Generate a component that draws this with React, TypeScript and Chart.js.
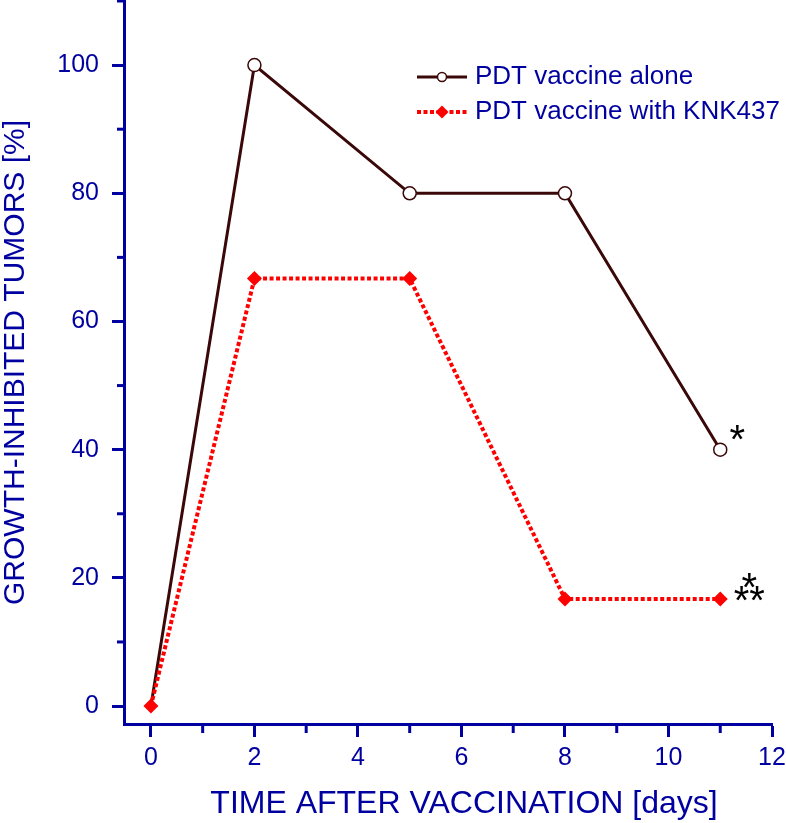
import React, { useEffect, useRef } from "react";
import { Chart, registerables } from "chart.js";

Chart.register(...registerables);

// ---- data ----
const days = [0, 2, 5, 8, 11];
const aloneValues = [0, 100, 80, 80, 40];
const knkValues = [0, 66.7, 66.7, 16.7, 16.7];
const seriesLabels = ["PDT vaccine alone", "PDT vaccine with KNK437"];
const xTitle = "TIME AFTER VACCINATION [days]";
const yTitle = "GROWTH-INHIBITED TUMORS [%]";
const xMajorTicks = [0, 2, 4, 6, 8, 10, 12];
const yMajorTicks = [0, 20, 40, 60, 80, 100];
const aloneMarks = ["*"];
const knkMarks = ["*", "**"];

// ---- styles ----
const AXIS = "#0000a0";
const BROWN = "#3a0808";
const RED = "#ff0000";
const FONT = "'Liberation Sans', Arial, Helvetica, sans-serif";

const minorTicksPlugin = {
  id: "minorTicks",
  afterDraw(chart: any) {
    const ctx = chart.ctx;
    const xs = chart.scales.x;
    const ys = chart.scales.y;
    ctx.save();
    ctx.strokeStyle = AXIS;
    ctx.lineWidth = 3;
    for (const t of xs.ticks) {
      if (xMajorTicks.includes(t.value)) continue;
      const px = xs.getPixelForValue(t.value);
      ctx.beginPath();
      ctx.moveTo(px, xs.top);
      ctx.lineTo(px, xs.top + 9);
      ctx.stroke();
    }
    for (const t of ys.ticks) {
      if (yMajorTicks.includes(t.value)) continue;
      const py = ys.getPixelForValue(t.value);
      ctx.beginPath();
      ctx.moveTo(ys.right, py);
      ctx.lineTo(ys.right - 7, py);
      ctx.stroke();
    }
    // x axis title
    const area = chart.chartArea;
    ctx.fillStyle = AXIS;
    ctx.font = `32px ${FONT}`;
    ctx.textAlign = "center";
    ctx.textBaseline = "middle";
    ctx.fillText(xTitle, (area.left + area.right) / 2 + 16, area.bottom + 80);
    ctx.restore();
  },
};

const legendPlugin = {
  id: "customLegend",
  afterDraw(chart: any) {
    const ctx = chart.ctx;
    const area = chart.chartArea;
    const x0 = area.left + 293;
    const rows = [area.top + 76, area.top + 111];
    ctx.save();
    // row 1
    ctx.strokeStyle = BROWN;
    ctx.lineWidth = 3;
    ctx.setLineDash([]);
    ctx.beginPath();
    ctx.moveTo(x0, rows[0]);
    ctx.lineTo(x0 + 50, rows[0]);
    ctx.stroke();
    ctx.fillStyle = "#fff";
    ctx.lineWidth = 1.5;
    ctx.beginPath();
    ctx.arc(x0 + 25, rows[0], 4.5, 0, Math.PI * 2);
    ctx.fill();
    ctx.stroke();
    // row 2
    ctx.strokeStyle = RED;
    ctx.lineWidth = 4;
    ctx.setLineDash([4, 2.5]);
    ctx.beginPath();
    ctx.moveTo(x0, rows[1]);
    ctx.lineTo(x0 + 50, rows[1]);
    ctx.stroke();
    ctx.setLineDash([]);
    ctx.fillStyle = RED;
    ctx.beginPath();
    const cx = x0 + 25, cy = rows[1], r = 6.5;
    ctx.moveTo(cx, cy - r);
    ctx.lineTo(cx + r, cy);
    ctx.lineTo(cx, cy + r);
    ctx.lineTo(cx - r, cy);
    ctx.closePath();
    ctx.fill();
    // text
    ctx.fillStyle = AXIS;
    ctx.font = `26px ${FONT}`;
    ctx.textBaseline = "middle";
    ctx.textAlign = "left";
    ctx.fillText(seriesLabels[0], x0 + 58, rows[0]);
    ctx.fillText(seriesLabels[1], x0 + 58, rows[1]);
    ctx.restore();
  },
};

function drawCentered(ctx: CanvasRenderingContext2D, text: string, cx: number, cy: number) {
  const m = ctx.measureText(text);
  const asc = m.actualBoundingBoxAscent;
  const desc = m.actualBoundingBoxDescent;
  ctx.fillText(text, cx, cy + (asc - desc) / 2);
}

const marksPlugin = {
  id: "sigMarks",
  afterDraw(chart: any) {
    const ctx = chart.ctx;
    const xs = chart.scales.x;
    const ys = chart.scales.y;
    const last = days.length - 1;
    const ax = xs.getPixelForValue(days[last]);
    const ay = ys.getPixelForValue(aloneValues[last]);
    const ky = ys.getPixelForValue(knkValues[last]);
    ctx.save();
    ctx.fillStyle = "#000";
    ctx.font = `40px ${FONT}`;
    ctx.textAlign = "center";
    ctx.textBaseline = "alphabetic";
    drawCentered(ctx, aloneMarks[0], ax + 17, ay - 17);
    drawCentered(ctx, knkMarks[0], ax + 29, ky - 19);
    drawCentered(ctx, knkMarks[1], ax + 29, ky - 6);
    ctx.restore();
  },
};

export default function App() {
  const ref = useRef<HTMLCanvasElement | null>(null);
  useEffect(() => {
    if (!ref.current) return;
    const chart = new Chart(ref.current, {
      type: "line",
      data: {
        datasets: [
          {
            label: seriesLabels[0],
            data: days.map((d, i) => ({ x: d, y: aloneValues[i] })),
            borderColor: BROWN,
            borderWidth: 3,
            pointStyle: "circle",
            pointRadius: (c: any) => (c.dataIndex === 0 ? 0 : 6.5),
            pointBackgroundColor: "#fff",
            pointBorderColor: BROWN,
            pointBorderWidth: 1.5,
            tension: 0,
            order: 2,
          },
          {
            label: seriesLabels[1],
            data: days.map((d, i) => ({ x: d, y: knkValues[i] })),
            borderColor: RED,
            borderWidth: 4,
            borderDash: [4, 2.5],
            pointStyle: "rectRot",
            pointRadius: 7.5,
            pointBackgroundColor: RED,
            pointBorderColor: RED,
            pointBorderWidth: 0,
            tension: 0,
            order: 1,
          },
        ],
      },
      options: {
        animation: false,
        responsive: true,
        maintainAspectRatio: false,
        layout: { autoPadding: false, padding: { top: 1, right: 14, left: 0, bottom: 0 } },
        plugins: { legend: { display: false }, tooltip: { enabled: false } },
        scales: {
          x: {
            type: "linear",
            min: -0.52,
            max: 12,
            afterFit: (s: any) => {
              s.height = 99;
              s.paddingLeft = 0;
              s.paddingRight = 0;
            },
            grid: {
              drawOnChartArea: false,
              tickLength: 13,
              tickWidth: 3,
              tickColor: (c: any) =>
                c.tick && xMajorTicks.includes(c.tick.value) ? AXIS : "rgba(0,0,0,0)",
            },
            border: { display: true, color: AXIS, width: 3 },
            ticks: {
              stepSize: 1,
              includeBounds: false,
              autoSkip: false,
              maxRotation: 0,
              color: AXIS,
              padding: 6,
              font: { family: FONT, size: 25 },
              callback: (v: any) => (xMajorTicks.includes(v) ? String(v) : ""),
            },
            title: { display: false, text: xTitle },
          },
          y: {
            type: "linear",
            min: -2.8,
            max: 110,
            afterFit: (s: any) => {
              s.width = 124;
              s.paddingTop = 0;
              s.paddingBottom = 0;
            },
            grid: {
              drawOnChartArea: false,
              tickLength: 12,
              tickWidth: 3,
              tickColor: (c: any) =>
                c.tick && yMajorTicks.includes(c.tick.value) ? AXIS : "rgba(0,0,0,0)",
            },
            border: { display: true, color: AXIS, width: 3 },
            ticks: {
              stepSize: 10,
              includeBounds: false,
              autoSkip: false,
              color: AXIS,
              padding: 13,
              font: { family: FONT, size: 25 },
              callback: (v: any) => (yMajorTicks.includes(v) ? String(v) : ""),
            },
            title: {
              display: true,
              text: yTitle,
              color: AXIS,
              font: { family: FONT, size: 30, lineHeight: 1 },
              padding: { top: 1, bottom: 0 },
            },
          },
        },
      },
      plugins: [minorTicksPlugin, legendPlugin, marksPlugin],
    });
    return () => chart.destroy();
  }, []);
  return (
    <div style={{ position: "fixed", left: 0, top: 0, width: 786, height: 823 }}>
      <canvas ref={ref} />
    </div>
  );
}
